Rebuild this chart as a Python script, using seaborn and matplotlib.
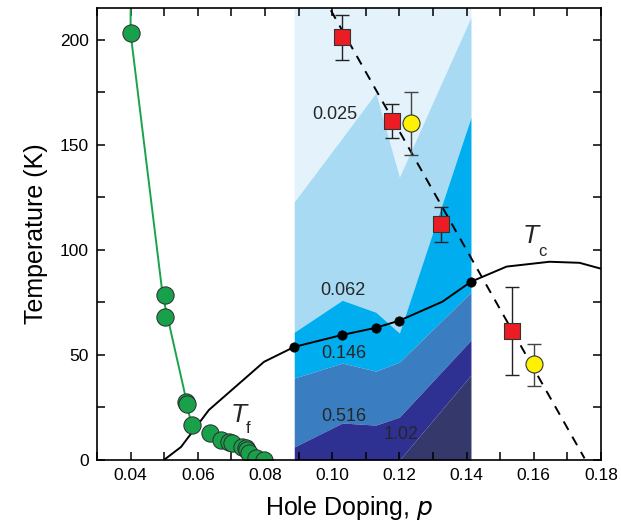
import numpy as np
import pandas as pd
import matplotlib
matplotlib.use("Agg")
import matplotlib.pyplot as plt
import seaborn as sns
from matplotlib.ticker import MultipleLocator

# shaded region (contour-like bands)
shade_p = [0.0887, 0.103, 0.113, 0.120, 0.1413]
band_a = [122.8, 153.2, 174.6, 134.6, 210.6]
band_b = [60.8, 76.0, 70.3, 60.4, 163.0]
band_c = [39.0, 46.1, 42.3, 46.6, 79.8]
band_d = [6.2, 17.6, 16.6, 20.4, 57.0]
band_e = [0.0, 0.0, 0.0, 0.0, 40.4]
band_labels = ["0.025", "0.062", "0.146", "0.516", "1.02"]
band_label_p = [0.1009, 0.1033, 0.1034, 0.1034, 0.1206]
band_label_T = [164.5, 80.8, 50.7, 20.9, 11.9]

# Tc dome
tc_p = [0.0499, 0.055, 0.0633, 0.0797, 0.0887, 0.103, 0.113, 0.120, 0.1328, 0.1413,
        0.1519, 0.1647, 0.1736, 0.1800]
tc_T = [0.0, 6.2, 23.8, 46.7, 53.8, 59.5, 62.9, 66.3, 75.3, 84.8, 92.0, 94.3, 93.8, 91.0]
tc_dot_p = [0.0887, 0.103, 0.113, 0.120, 0.1413]
tc_dot_T = [53.8, 59.5, 62.9, 66.3, 84.8]

# Tf (green)
tf_p = [0.0400, 0.0502, 0.0502, 0.0565, 0.0567, 0.0583, 0.0636, 0.0669, 0.0693, 0.0702,
        0.0732, 0.0744, 0.0747, 0.0753, 0.0773, 0.0797]
tf_T = [203.0, 78.6, 68.2, 27.8, 26.8, 16.7, 12.9, 9.5, 8.7, 8.0, 6.3, 5.7, 4.8, 3.4, 1.0, 0.0]
tf_line_p = [0.0400, 0.0400, 0.0493, 0.0502, 0.0559, 0.0579]
tf_line_T = [214.0, 203.0, 81.6, 73.7, 33.3, 18.2]

# red squares and yellow circles with error bars
sq_p = [0.1029, 0.1178, 0.1324, 0.1536]
sq_T = [201.2, 161.1, 112.2, 61.3]
sq_lo = [190.4, 153.2, 103.8, 40.4]
sq_hi = [211.5, 169.1, 120.4, 82.1]
yc_p = [0.1234, 0.1600]
yc_T = [160.3, 45.5]
yc_lo = [145.3, 35.3]
yc_hi = [175.0, 55.1]

# dashed line
dash_p = [0.0996, 0.1751]
dash_T = [213.9, 0.8]

sns.set_style("ticks")
plt.rcParams["font.family"] = ["Liberation Sans", "DejaVu Sans"]

fig = plt.figure(figsize=(6.21, 5.29), dpi=100)
ax = fig.add_axes([0.1562, 0.1304, 0.8116, 0.8545])
ax.set_axisbelow(False)

ymax = 215
cols = ["#e3f2fb", "#a8dbf3", "#00aeef", "#3a7ec1", "#2e3192", "#35386b"]
bounds = [[ymax] * len(shade_p), band_a, band_b, band_c, band_d, band_e, [0] * len(shade_p)]
for i, c in enumerate(cols):
    ax.fill_between(shade_p, bounds[i + 1], bounds[i], color=c, lw=0, zorder=1)

for lab, px, ty in zip(band_labels, band_label_p, band_label_T):
    ax.text(px, ty, lab, fontsize=13, ha="center", va="center", zorder=3)

sns.lineplot(x=tc_p, y=tc_T, ax=ax, color="black", lw=1.4, sort=False, estimator=None, zorder=4)
sns.scatterplot(x=tc_dot_p, y=tc_dot_T, ax=ax, color="black", s=45, edgecolor="black", zorder=5)

sns.lineplot(x=tf_line_p, y=tf_line_T, ax=ax, color="#1aa34a", lw=1.4, sort=False, estimator=None, zorder=4)
sns.scatterplot(x=tf_p, y=tf_T, ax=ax, color="#19a04a", s=155, edgecolor="#2b2b2b", lw=0.7, zorder=5)

dl, = ax.plot(dash_p, dash_T, color="black", lw=1.4, zorder=4)
dl.set_dashes([5, 4])

sq_df = pd.DataFrame({"p": sq_p, "T": sq_T})
ax.errorbar(sq_p, sq_T, yerr=[np.subtract(sq_T, sq_lo), np.subtract(sq_hi, sq_T)],
            fmt="none", ecolor="#222222", elinewidth=1.0, capsize=5, capthick=1.0, zorder=5)
sns.scatterplot(data=sq_df, x="p", y="T", ax=ax, marker="s", color="#ec1c24", s=120,
                edgecolor="#333333", lw=0.8, zorder=6)
ax.errorbar(yc_p, yc_T, yerr=[np.subtract(yc_T, yc_lo), np.subtract(yc_hi, yc_T)],
            fmt="none", ecolor="#444444", elinewidth=1.0, capsize=5, capthick=1.0, zorder=5)
sns.scatterplot(x=yc_p, y=yc_T, ax=ax, color="#fff200", s=150, edgecolor="#333333", lw=0.8, zorder=6)

ax.text(0.1591, 106.5, "T", fontsize=19, style="italic", ha="center", va="center")
ax.text(0.1627, 99.0, "c", fontsize=12, ha="center", va="center")
ax.text(0.0723, 21.4, "T", fontsize=19, style="italic", ha="center", va="center")
ax.text(0.0750, 15.2, "f", fontsize=12, ha="center", va="center")

ax.set_xlim(0.03, 0.18)
ax.set_ylim(0, ymax)
ax.set_xticks(np.arange(0.04, 0.181, 0.02))
ax.set_xticklabels([f"{v:.2f}" for v in np.arange(0.04, 0.181, 0.02)])
ax.xaxis.set_minor_locator(MultipleLocator(0.01))
ax.yaxis.set_major_locator(MultipleLocator(50))
ax.yaxis.set_minor_locator(MultipleLocator(25))
ax.tick_params(which="both", direction="in", top=True, right=True, bottom=True, left=True,
               length=6, width=1.1, color="black", labelcolor="black", labelsize=12.5, pad=6)
for s in ax.spines.values():
    s.set_linewidth(1.2)
    s.set_color("black")
    s.set_zorder(10)

ax.set_xlabel("Hole Doping, $\\it{p}$", fontsize=18, labelpad=8, color="black")
ax.set_ylabel("Temperature (K)", fontsize=18, labelpad=8, color="black")

fig.savefig("out.png", dpi=100)
